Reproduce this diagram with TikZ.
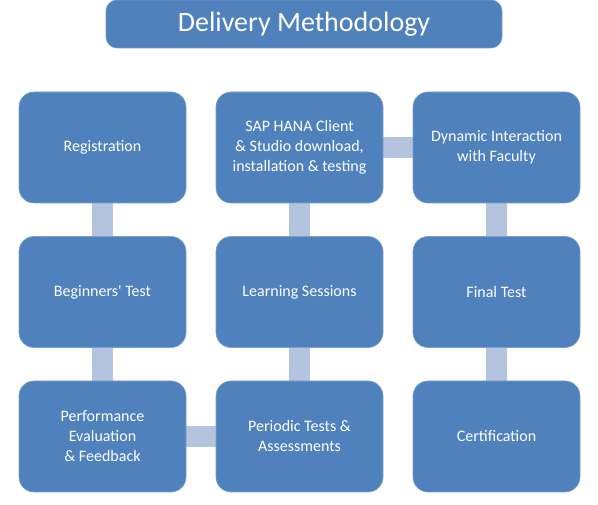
\documentclass[tikz,border=0pt]{standalone}
\usepackage{fontspec}
\setmainfont{Carlito}[Ligatures=TeXOff]
\usetikzlibrary{positioning,backgrounds}
\definecolor{boxblue}{HTML}{4F81BD}
\definecolor{linkblue}{HTML}{B4C4DE}
\tikzset{
    block/.style = {draw=boxblue!75!white, fill=boxblue, line width=0.6pt,
        rounded corners=15pt, text=white,
        minimum height=111pt,
        minimum width=167pt, align=center,
        font=\fontsize{16}{20}\selectfont},
    head/.style = {block, minimum height=48pt, minimum width=396pt,
        rounded corners=11pt, font=\fontsize{28}{32}\selectfont},
    link/.style = {draw=linkblue, line width=21pt}
}

\begin{document}
\begin{tikzpicture}[node distance=197pt]
        \useasboundingbox (0,0) rectangle (598pt,-505pt);
        \node [head] (title) at (304pt,-24pt) {Delivery Methodology};
        \node [block] (reg) at (102.5pt,-147.5pt) {Registration};
        \node [block, right of=reg] (sap) {SAP HANA Client\\ \& Studio download,\\ installation \& testing};
        \node [block, right of=sap] (dyn) {Dynamic Interaction\\ with Faculty};
        \node [block, below of=reg, node distance=144.5pt] (beg) {Beginners' Test};
        \node [block, below of=sap, node distance=144.5pt] (learn) {Learning Sessions};
        \node [block, below of=dyn, node distance=144.5pt] (final) {Final Test};
        \node [block, below of=beg, node distance=144.5pt] (perf) {Performance\\ Evaluation\\ \& Feedback};
        \node [block, below of=learn, node distance=144.5pt] (periodic) {Periodic Tests \&\\ Assessments};
        \node [block, below of=final, node distance=144.5pt] (cert) {Certification};
        \begin{scope}[on background layer]
        \draw [link] (reg) -- (beg);
        \draw [link] (beg) -- (perf);
        \draw [link] (perf) -- (periodic);
        \draw [link] (periodic) -- (learn);
        \draw [link] (learn) -- (sap);
        \draw [link] (sap) -- (dyn);
        \draw [link] (dyn) -- (final);
        \draw [link] (final) -- (cert);
        \end{scope}
        \end{tikzpicture}
\end{document}
